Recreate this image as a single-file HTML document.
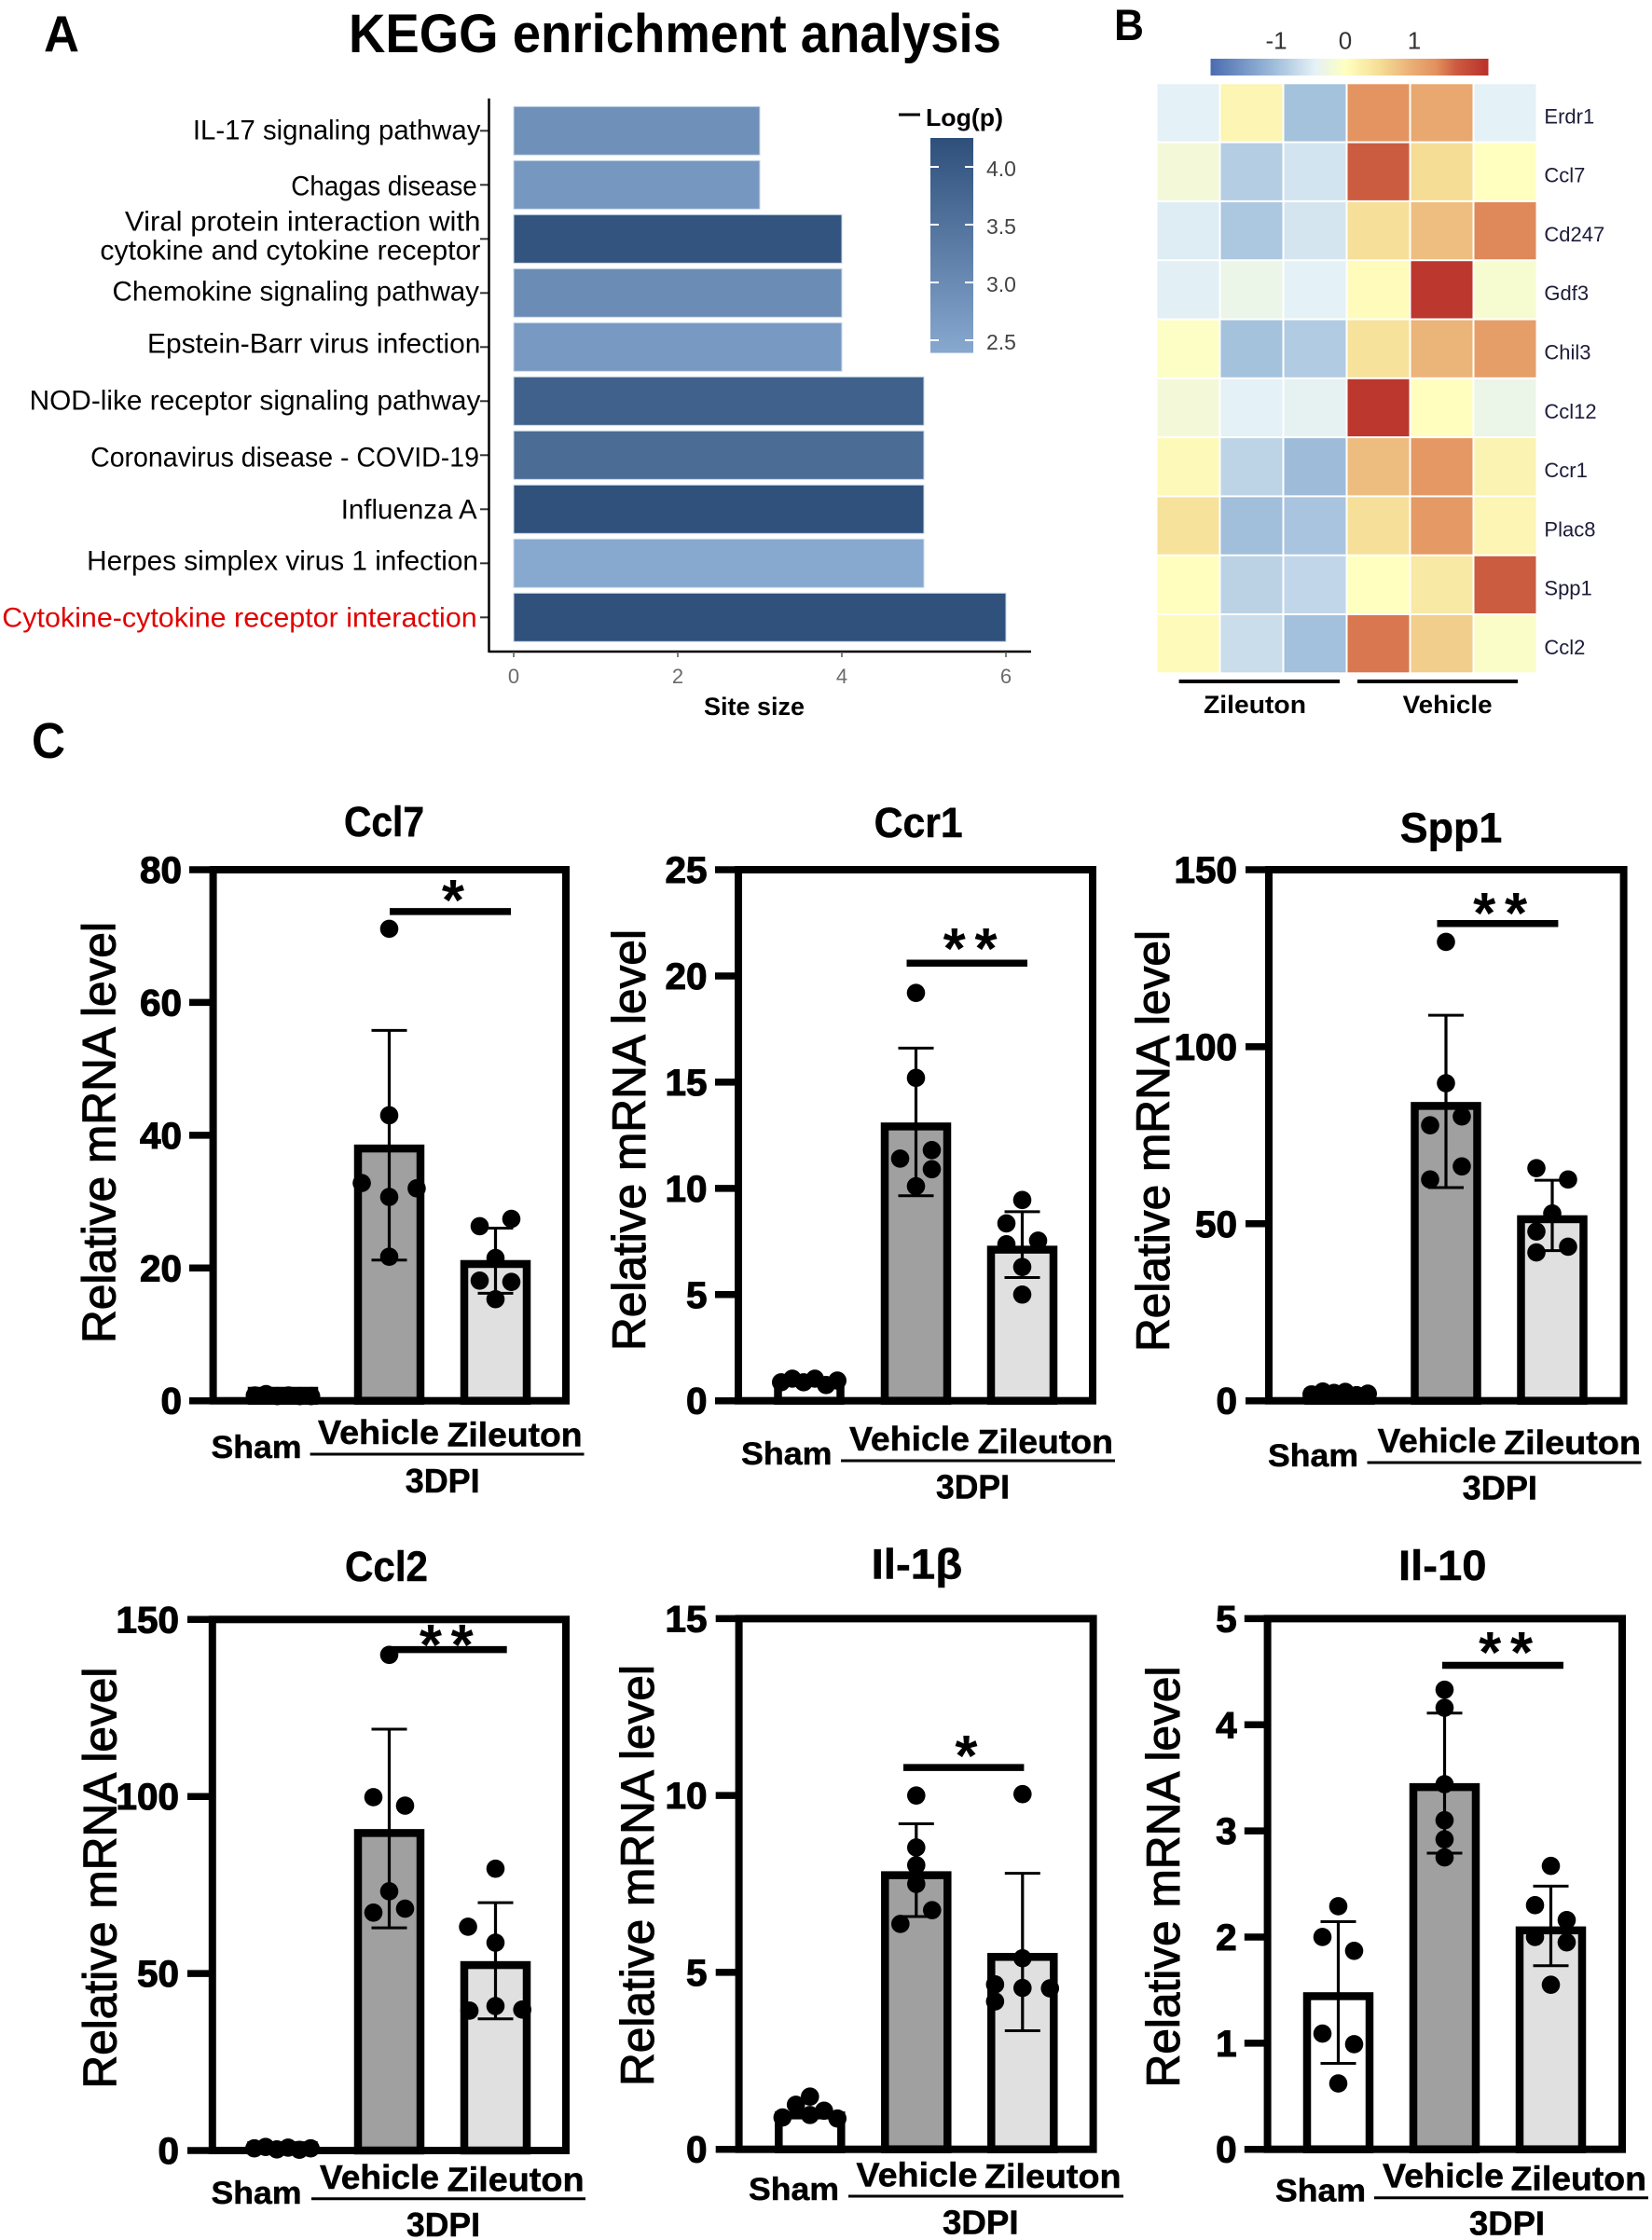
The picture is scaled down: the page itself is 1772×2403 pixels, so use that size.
<!DOCTYPE html>
<html lang="en">
<head>
<meta charset="utf-8">
<title>KEGG enrichment, heatmap and relative mRNA levels</title>
<style>
html,body{margin:0;padding:0;background:#fff;}
svg{display:block;font-family:"Liberation Sans","DejaVu Sans",sans-serif;}
</style>
</head>
<body>
<svg id="figure" width="1772" height="2403" viewBox="0 0 1772 2403">
  <rect x="0" y="0" width="1772" height="2403" fill="#ffffff"/>
  <defs>
    <linearGradient id="logpGradient" x1="0" y1="0" x2="0" y2="1">
      <stop offset="0" stop-color="#2d4f7a"/>
      <stop offset="1" stop-color="#87a8cf"/>
    </linearGradient>
    <linearGradient id="heatGradient" x1="0" y1="0" x2="1" y2="0"></linearGradient>
  </defs>
  <text x="47" y="55" font-size="55" font-weight="700" textLength="38" lengthAdjust="spacingAndGlyphs">A</text>
  <text x="374" y="56" font-size="58" font-weight="700" textLength="700" lengthAdjust="spacingAndGlyphs">KEGG enrichment analysis</text>
  <text x="1195" y="43" font-size="47" font-weight="700" textLength="32" lengthAdjust="spacingAndGlyphs">B</text>
  <text x="34" y="813" font-size="54" font-weight="700" textLength="36" lengthAdjust="spacingAndGlyphs">C</text>
  <text x="755" y="767" font-size="27" font-weight="700" textLength="108" lengthAdjust="spacingAndGlyphs">Site size</text>
  <text x="993" y="135" font-size="26" font-weight="700" textLength="83" lengthAdjust="spacingAndGlyphs">Log(p)</text>
  <line x1="964" y1="123" x2="987" y2="123" stroke="#000" stroke-width="3"/>
  <rect x="998" y="148" width="46" height="230.6" fill="url(#logpGradient)"/>
  <rect x="1298.5" y="63" width="298" height="18" fill="url(#heatGradient)"/>
  <line x1="1264.6" y1="731" x2="1437" y2="731" stroke="#000" stroke-width="4"/>
  <line x1="1456" y1="731" x2="1628" y2="731" stroke="#000" stroke-width="4"/>
  <text x="1291" y="765" font-size="27" font-weight="700" textLength="110" lengthAdjust="spacingAndGlyphs">Zileuton</text>
  <text x="1504.6" y="765" font-size="27" font-weight="700" textLength="96" lengthAdjust="spacingAndGlyphs">Vehicle</text>
</svg>
<script>
// ---------- Panel A data ----------
const keggCategories = [
  ['IL-17 signaling pathway'],
  ['Chagas disease'],
  ['Viral protein interaction with', 'cytokine and cytokine receptor'],
  ['Chemokine signaling pathway'],
  ['Epstein-Barr virus infection'],
  ['NOD-like receptor signaling pathway'],
  ['Coronavirus disease - COVID-19'],
  ['Influenza A'],
  ['Herpes simplex virus 1 infection'],
  ['Cytokine-cytokine receptor interaction']
];
const keggSiteSize = [3, 3, 4, 4, 4, 5, 5, 5, 5, 6];
const keggLogP = [2.89, 2.74, 4.14, 2.97, 2.70, 3.88, 3.65, 4.2, 2.4, 4.2];
const keggXTicks = [0, 2, 4, 6];
const logpTicks = [2.5, 3.0, 3.5, 4.0];

// ---------- Panel B data ----------
const heatGenes = ['Erdr1', 'Ccl7', 'Cd247', 'Gdf3', 'Chil3', 'Ccl12', 'Ccr1', 'Plac8', 'Spp1', 'Ccl2'];
const heatErdr1 = [-0.45, 0.15, -0.98, 1.28, 1.03, -0.45];
const heatCcl7 = [-0.2, -0.85, -0.6, 1.6, 0.5, 0];
const heatCd247 = [-0.5, -0.92, -0.58, 0.47, 0.8, 1.35];
const heatGdf3 = [-0.47, -0.33, -0.45, 0.06, 2.0, -0.13];
const heatChil3 = [-0.04, -0.98, -0.88, 0.42, 0.9, 1.15];
const heatCcl12 = [-0.2, -0.45, -0.42, 2.0, 0.02, -0.33];
const heatCcr1 = [0.08, -0.78, -1.05, 0.82, 1.22, 0.18];
const heatPlac8 = [0.42, -1.02, -0.95, 0.45, 1.2, 0.15];
const heatSpp1 = [0.02, -0.8, -0.75, 0, 0.33, 1.6];
const heatCcl2 = [0.07, -0.68, -1.0, 1.45, 0.65, -0.07];
const heatTicks = [-1, 0, 1];

// ---------- Panel C data ----------
const groupNames = ['Sham', 'Vehicle', 'Zileuton'];

const ccl7Ticks = [0, 20, 40, 60, 80];
const ccl7Means = [2.1, 38.6, 21.2];
const ccl7Upper = [null, 55.8, 26];
const ccl7Lower = [null, 21.2, 16.2];
const ccl7Sham = [0.8, 1.0, 0.7, 0.8, 0.7, 0.7];
const ccl7Vehicle = [71.1, 43, 32.8, 32, 30.7, 21.7];
const ccl7Zileuton = [26.3, 27.4, 21.5, 18.1, 17.9, 15.3];
const ccl7Sig = 73.7;

const ccr1Ticks = [0, 5, 10, 15, 20, 25];
const ccr1Means = [1.1, 13.1, 7.3];
const ccr1Upper = [null, 16.6, 8.9];
const ccr1Lower = [null, 9.65, 5.8];
const ccr1Sham = [0.87, 1.04, 0.87, 1.04, 0.74, 0.95];
const ccr1Vehicle = [19.2, 15.2, 11.4, 11.8, 10.9, 10.1];
const ccr1Zileuton = [9.45, 8.35, 7.54, 7.37, 6.3, 5.0];
const ccr1Sig = 20.6;

const spp1Ticks = [0, 50, 100, 150];
const spp1Means = [3.6, 84.4, 52.4];
const spp1Upper = [null, 108.9, 62.3];
const spp1Lower = [null, 60.2, 42.4];
const spp1Sham = [1.8, 2.6, 2.2, 2.5, 1.6, 2.0];
const spp1Vehicle = [129.6, 89.7, 77.8, 80.3, 66.2, 62.5];
const spp1Zileuton = [65.7, 62.5, 52.9, 47.8, 43.5, 41.9];
const spp1Sig = 134.8;

const ccl2Ticks = [0, 50, 100, 150];
const ccl2Means = [2.6, 90.8, 53.5];
const ccl2Upper = [null, 119, 70];
const ccl2Lower = [null, 62.9, 37.2];
const ccl2Sham = [0.6, 1.0, 0.3, 0.8, 0.2, 0.6];
const ccl2Vehicle = [140, 99.8, 97.4, 73.2, 67.2, 68.3];
const ccl2Zileuton = [79.6, 63.2, 58.7, 40.8, 39.5, 39.8];
const ccl2Sig = 141.5;

const il1bTicks = [0, 5, 10, 15];
const il1bMeans = [1.07, 7.86, 5.55];
const il1bUpper = [null, 9.2, 7.8];
const il1bLower = [null, 6.58, 3.35];
const il1bSham = [1.49, 1.26, 1.09, 0.97, 0.9, 0.87];
const il1bVehicle = [10, 8.53, 8.03, 7.5, 6.76, 6.37];
const il1bZileuton = [10.04, 5.4, 4.66, 4.56, 4.55, 4.18];
const il1bSig = 10.79;

const il10Ticks = [0, 1, 2, 3, 4, 5];
const il10Means = [1.48, 3.45, 2.1];
const il10Upper = [2.145, 4.11, 2.48];
const il10Lower = [0.81, 2.79, 1.73];
const il10Sham = [2.29, 2, 1.87, 1.09, 0.99, 0.62];
const il10Vehicle = [4.33, 4.16, 3.44, 3.1, 2.92, 2.75];
const il10Zileuton = [2.67, 2.3, 2.16, 2, 1.95, 1.55];
const il10Sig = 4.56;

// ---------- Layout (not data) ----------
const svg = document.getElementById('figure');
const NS = svg.namespaceURI;
const keggLabelLayout = [
  [{r: 515.4, w: 308.5, dy: 9}],
  [{r: 511.7, w: 199.4, dy: 11}],
  [{r: 515.4, w: 381.5, dy: -9}, {r: 515.4, w: 408, dy: 22}],
  [{r: 514, w: 393.5, dy: 8}],
  [{r: 515.4, w: 357.4, dy: 6}],
  [{r: 515.4, w: 483.8, dy: 9}],
  [{r: 514, w: 416.9, dy: 12}],
  [{r: 511.7, w: 146, dy: 10}],
  [{r: 513, w: 419.9, dy: 7}],
  [{r: 511.7, w: 509.4, dy: 10}]
];
const swarmSix = [-0.4, -0.24, -0.08, 0.08, 0.24, 0.4];
const centerAll = [0, 0, 0, 0, 0, 0];

function mk(tag, parent, attrs) {
  const el = document.createElementNS(NS, tag);
  Object.keys(attrs).forEach(function (k) { el.setAttribute(k, attrs[k]); });
  parent.appendChild(el);
  return el;
}
function txt(parent, str, attrs) {
  const el = mk('text', parent, attrs);
  el.textContent = str;
  return el;
}
function hex(c) { return [parseInt(c.slice(1, 3), 16), parseInt(c.slice(3, 5), 16), parseInt(c.slice(5, 7), 16)]; }
function mix(a, b, t) {
  const p = hex(a), q = hex(b);
  return 'rgb(' + p.map(function (v, i) { return Math.round(v + (q[i] - v) * t); }).join(',') + ')';
}

// ---------- Panel A ----------
(function () {
  const g = mk('g', svg, {});
  
  
  const x = function (v) { return 551 + 88 * v; };
  const bandY = function (i) { return 140.3 + 58 * i; };
  const logpY = function (v) { return 365 - (v - 2.5) * 124; };
  const logpColor = function (v) {
    const t = Math.max(0, Math.min(1, (v - 2.39) / (4.25 - 2.39)));
    return mix('#87a8cf', '#2d4f7a', t);
  };

  keggSiteSize.forEach(function (v, i) {
    const bar = mk('rect', g, {x: x(0), y: bandY(i) - 26, width: x(v) - x(0), height: 52, fill: logpColor(keggLogP[i]), stroke: '#cbd9ea', 'stroke-width': 1});
    
    
    const tick = mk('line', g, {x1: 515, x2: 524.5, y1: bandY(i), y2: bandY(i), stroke: '#333', 'stroke-width': 2});
    
    
    keggCategories[i].forEach(function (line, k) {
      const box = keggLabelLayout[i][k];
      const label = txt(g, line, {x: box.r, y: bandY(i) + box.dy, 'font-size': 30, 'text-anchor': 'end', textLength: box.w, lengthAdjust: 'spacingAndGlyphs', fill: i === 9 ? '#e00000' : '#000'});
      
      
    });
  });

  const yAxis = mk('line', g, {x1: 524.5, x2: 524.5, y1: 105.6, y2: 700, stroke: '#000', 'stroke-width': 2.5});
  
  
  const xAxis = mk('line', g, {x1: 524.5, x2: 1106, y1: 699, y2: 699, stroke: '#000', 'stroke-width': 2.5});
  
  

  keggXTicks.forEach(function (v) {
    const t = mk('line', g, {x1: x(v), x2: x(v), y1: 699, y2: 705, stroke: '#555', 'stroke-width': 1.5});
    
    
    const l = txt(g, String(v), {x: x(v), y: 733, 'font-size': 22, 'text-anchor': 'middle', fill: '#6b6b6b'});
    
    
  });

  logpTicks.forEach(function (v) {
    const a = mk('line', g, {x1: 998, x2: 1007, y1: logpY(v), y2: logpY(v), stroke: '#fff', 'stroke-width': 2});
    
    
    const b = mk('line', g, {x1: 1035, x2: 1044, y1: logpY(v), y2: logpY(v), stroke: '#fff', 'stroke-width': 2});
    
    
    const l = txt(g, v.toFixed(1), {x: 1058, y: logpY(v) + 10, 'font-size': 23, fill: '#444'});
    
    
  });
})();

// ---------- Panel B ----------
const heatRows = [heatErdr1, heatCcl7, heatCd247, heatGdf3, heatChil3, heatCcl12, heatCcr1, heatPlac8, heatSpp1, heatCcl2];
(function () {
  const g = mk('g', svg, {});
  
  
  const scaleZ = [-1.96, -1, -0.45, 0, 0.5, 1.0, 1.3, 1.6, 2.07];
  const scaleC = ['#4a6cb0', '#a3c0dc', '#e4f1f6', '#ffffc0', '#f5dd95', '#e9aa72', '#e3925f', '#cc5c40', '#b9302b'];
  const heatColor = function (z) {
    for (let i = 0; i < scaleZ.length - 1; i++) {
      if (z <= scaleZ[i + 1]) {
        const t = Math.max(0, (z - scaleZ[i]) / (scaleZ[i + 1] - scaleZ[i]));
        return mix(scaleC[i], scaleC[i + 1], t);
      }
    }
    return scaleC[scaleC.length - 1];
  };
  const grad = document.getElementById('heatGradient');
  scaleZ.forEach(function (z, i) {
    mk('stop', grad, {offset: (z + 1.96) / 4.03, 'stop-color': scaleC[i]});
  });
  const colX = function (c) { return 1241.5 + 68 * c; };
  const rowY = function (r) { return 90.3 + 63.3 * r; };
  heatRows.forEach(function (row, r) {
    row.forEach(function (z, c) {
      const cell = mk('rect', g, {x: colX(c), y: rowY(r), width: 66, height: 61.3, fill: heatColor(z)});
      
      
    });
    const gene = txt(g, heatGenes[r], {x: 1656.4, y: rowY(r) + 42, 'font-size': 22, fill: '#1c1c3a'});
    
    
  });
  heatTicks.forEach(function (v) {
    const l = txt(g, String(v), {x: 1443 + 74 * v, y: 52.5, 'font-size': 26, 'text-anchor': 'middle', fill: '#333'});
    
    
  });
})();

// ---------- Panel C ----------
const fills = ['#ffffff', '#a0a0a0', '#e0e0e0'];
const barCharts = [
  {id: 'ccl7', title: 'Ccl7', ticks: ccl7Ticks, means: ccl7Means, upper: ccl7Upper, lower: ccl7Lower, sets: [ccl7Sham, ccl7Vehicle, ccl7Zileuton], sig: ccl7Sig,
   jit: [swarmSix, [0, 0, -0.39, 0.39, 0, 0], [-0.225, 0.225, 0, -0.225, 0.225, 0]],
   L: 228.6, R: 607, T: 933, B: 1502.7, tickL: 203, labelR: 195, centers: [303.5, 417.5, 531.5],
   tb: [369, 86, 897], yt: [123.7, 1215], sham: [226.5, 97, 1564], veh: [341, 130, 1549], zil: [479.6, 145, 1551.4], rule: [332.6, 626.5, 1560], dpi: [434.7, 80, 1601],
   sigX: [418, 548], star: ['*', 486, 987]},
  {id: 'ccr1', title: 'Ccr1', ticks: ccr1Ticks, means: ccr1Means, upper: ccr1Upper, lower: ccr1Lower, sets: [ccr1Sham, ccr1Vehicle, ccr1Zileuton], sig: ccr1Sig,
   jit: [swarmSix, [0, 0, -0.225, 0.225, 0.225, 0], [0, -0.225, 0.225, -0.225, 0, 0]],
   L: 792, R: 1172, T: 933, B: 1502.7, tickL: 767, labelR: 758.5, centers: [868, 982.5, 1096.5],
   tb: [937.6, 95, 898], yt: [692, 1223], sham: [795, 97.5, 1571], veh: [911, 129, 1556], zil: [1048.6, 145.4, 1559], rule: [902, 1196, 1567], dpi: [1004, 79, 1607.6],
   sigX: [972.5, 1102], star: ['**', 1040.5, 1039]},
  {id: 'spp1', title: 'Spp1', ticks: spp1Ticks, means: spp1Means, upper: spp1Upper, lower: spp1Lower, sets: [spp1Sham, spp1Vehicle, spp1Zileuton], sig: spp1Sig,
   jit: [swarmSix, [0, 0, -0.225, 0.225, 0.225, -0.225], [-0.225, 0.225, 0, -0.225, 0.225, -0.225]],
   L: 1361, R: 1741.6, T: 933, B: 1502.7, tickL: 1336, labelR: 1327, centers: [1437, 1551, 1665],
   tb: [1501.8, 109.5, 903.7], yt: [1253.8, 1224], sham: [1360, 97, 1573], veh: [1477.7, 127.3, 1558], zil: [1613, 147, 1560], rule: [1466.5, 1760.5, 1569], dpi: [1568.6, 80.4, 1608.7],
   sigX: [1541.5, 1671.4], star: ['**', 1609, 1001]},
  {id: 'ccl2', title: 'Ccl2', ticks: ccl2Ticks, means: ccl2Means, upper: ccl2Upper, lower: ccl2Lower, sets: [ccl2Sham, ccl2Vehicle, ccl2Zileuton], sig: ccl2Sig,
   jit: [swarmSix, [0, -0.225, 0.225, 0, -0.225, 0.225], [0, -0.39, 0, 0, -0.37, 0.38]],
   L: 227.8, R: 607, T: 1737.3, B: 2307, tickL: 201, labelR: 192, centers: [303, 417.5, 531.5],
   tb: [370, 89, 1696], yt: [124.5, 2014.6], sham: [226.5, 97, 2364], veh: [343, 128, 2348], zil: [479.6, 147, 2350.5], rule: [334, 628, 2358.7], dpi: [436, 79, 2399],
   sigX: [416, 543.7], star: ['**', 478.7, 1786]},
  {id: 'il1b', title: 'Il-1β', ticks: il1bTicks, means: il1bMeans, upper: il1bUpper, lower: il1bLower, sets: [il1bSham, il1bVehicle, il1bZileuton], sig: il1bSig,
   jit: [[0, -0.2, 0.2, 0, -0.39, 0.39], [0, 0, 0, 0, 0.225, -0.225], [0, 0, -0.39, 0, 0.39, -0.39]],
   L: 792.6, R: 1172.6, T: 1736.4, B: 2305.7, tickL: 767.7, labelR: 758.5, centers: [868.8, 982.8, 1096.8],
   tb: [934.6, 97.6, 1693.5], yt: [701, 2012], sham: [803, 97, 2360], veh: [918.5, 130, 2345.6], zil: [1056, 146.5, 2347], rule: [910, 1205, 2356], dpi: [1011, 81.6, 2396.7],
   sigX: [969, 1098.4], star: ['*', 1036.4, 1905]},
  {id: 'il10', title: 'Il-10', ticks: il10Ticks, means: il10Means, upper: il10Upper, lower: il10Lower, sets: [il10Sham, il10Vehicle, il10Zileuton], sig: il10Sig,
   jit: [[0, -0.225, 0.225, -0.225, 0.225, 0], centerAll, [0, -0.225, 0.225, -0.225, 0.225, 0]],
   L: 1359.6, R: 1740, T: 1736.4, B: 2305.7, tickL: 1334.8, labelR: 1326.6, centers: [1435.5, 1549.5, 1663.5],
   tb: [1500, 94.6, 1695], yt: [1265, 2013.5], sham: [1368, 97, 2361.6], veh: [1483, 130, 2346.6], zil: [1620.6, 145.4, 2349.5], rule: [1474, 1768, 2357.8], dpi: [1576, 81, 2397.6],
   sigX: [1547, 1677], star: ['**', 1615, 1794]}
];

barCharts.forEach(function (c) {
  const g = mk('g', svg, {});
  
  
  const max = c.ticks[c.ticks.length - 1];
  const y = function (v) { return c.B - (v / max) * (c.B - c.T); };
  const W = 75.5, SW = 8.5;

  const title = txt(g, c.title, {x: c.tb[0], y: c.tb[2], 'font-size': 45, 'font-weight': 700, textLength: c.tb[1], lengthAdjust: 'spacingAndGlyphs', stroke: '#000', 'stroke-width': 0.5});
  
  

  const yTitle = txt(g, 'Relative mRNA level', {x: c.yt[0], y: c.yt[1], 'font-size': 50, 'text-anchor': 'middle', textLength: 452, lengthAdjust: 'spacingAndGlyphs', transform: 'rotate(-90 ' + c.yt[0] + ' ' + c.yt[1] + ')', stroke: '#000', 'stroke-width': 1.1});
  
  

  c.means.forEach(function (m, i) {
    const top = y(m);
    const bar = mk('rect', g, {x: c.centers[i] - W / 2 + SW / 2, y: top + SW / 2, width: W - SW, height: Math.max(0, c.B - top - SW / 2), fill: fills[i], stroke: '#000', 'stroke-width': SW});
    
    
  });

  const frame = mk('rect', g, {x: c.L, y: c.T, width: c.R - c.L, height: c.B - c.T, fill: 'none', stroke: '#000', 'stroke-width': 8});
  
  

  c.ticks.forEach(function (v) {
    const t = mk('line', g, {x1: c.tickL, x2: c.L, y1: y(v), y2: y(v), stroke: '#000', 'stroke-width': 7.5});
    
    
    const s = String(v);
    const l = txt(g, s, {x: c.labelR, y: y(v) + 14, 'font-size': 40, 'font-weight': 700, 'text-anchor': 'end', textLength: s.length * 22.5, lengthAdjust: 'spacingAndGlyphs', stroke: '#000', 'stroke-width': 1.1});
    
    
  });

  c.means.forEach(function (m, i) {
    if (c.upper[i] === null) return;
    const cx = c.centers[i];
    const stem = mk('line', g, {x1: cx, x2: cx, y1: y(c.upper[i]), y2: y(c.lower[i]), stroke: '#000', 'stroke-width': 3.2});
    
    
    const capTop = mk('line', g, {x1: cx - 19, x2: cx + 19, y1: y(c.upper[i]), y2: y(c.upper[i]), stroke: '#000', 'stroke-width': 3});
    
    
    const capLow = mk('line', g, {x1: cx - 19, x2: cx + 19, y1: y(c.lower[i]), y2: y(c.lower[i]), stroke: '#000', 'stroke-width': 3});
    
    
  });

  c.sets.forEach(function (vals, i) {
    vals.forEach(function (v, k) {
      const dot = mk('circle', g, {cx: c.centers[i] + c.jit[i][k] * W, cy: y(v), r: 9.8, fill: '#000'});
      
      
    });
  });

  const two = c.star[0].length === 2;
  const star = txt(g, c.star[0], {x: c.star[1] + (two ? 5 : 0), y: c.star[2], 'font-size': 62, 'font-weight': 700, 'text-anchor': 'middle', style: two ? 'letter-spacing:9.7px' : ''});
  
  
  const sigLine = mk('line', g, {x1: c.sigX[0], x2: c.sigX[1], y1: y(c.sig), y2: y(c.sig), stroke: '#000', 'stroke-width': 7.5});
  
  

  const sham = txt(g, groupNames[0], {x: c.sham[0], y: c.sham[2], 'font-size': 34, 'font-weight': 700, textLength: c.sham[1], lengthAdjust: 'spacingAndGlyphs', stroke: '#000', 'stroke-width': 0.5});
  
  
  const veh = txt(g, groupNames[1], {x: c.veh[0], y: c.veh[2], 'font-size': 36, 'font-weight': 700, textLength: c.veh[1], lengthAdjust: 'spacingAndGlyphs', stroke: '#000', 'stroke-width': 0.5});
  
  
  const zil = txt(g, groupNames[2], {x: c.zil[0], y: c.zil[2], 'font-size': 36, 'font-weight': 700, textLength: c.zil[1], lengthAdjust: 'spacingAndGlyphs', stroke: '#000', 'stroke-width': 0.5});
  
  
  const rule = mk('line', g, {x1: c.rule[0], x2: c.rule[1], y1: c.rule[2], y2: c.rule[2], stroke: '#000', 'stroke-width': 3});
  
  
  const dpi = txt(g, '3DPI', {x: c.dpi[0], y: c.dpi[2], 'font-size': 36, 'font-weight': 700, textLength: c.dpi[1], lengthAdjust: 'spacingAndGlyphs', stroke: '#000', 'stroke-width': 0.5});
  
  
});
</script>
</body>
</html>
